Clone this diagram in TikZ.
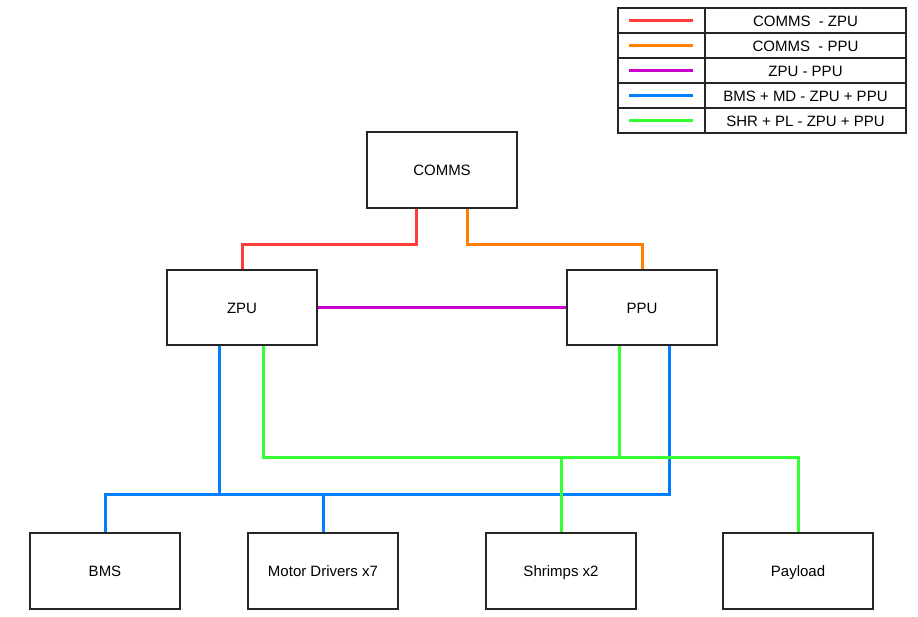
\documentclass[tikz,border=0pt]{standalone}
\usepackage{fontspec}
\setmainfont{Liberation Sans}
\usetikzlibrary{backgrounds}
\definecolor{cred}{RGB}{255,59,59}
\definecolor{corange}{RGB}{255,128,0}
\definecolor{cpurple}{RGB}{204,0,204}
\definecolor{cblue}{RGB}{0,128,255}
\definecolor{cgreen}{RGB}{51,255,51}
\tikzset{
  box/.style={draw=black!85, fill=white, line width=1.2pt, minimum width=150pt, minimum height=76pt, inner sep=0pt, text height=11pt, text depth=0pt, font=\fontsize{15}{18}\selectfont},
  legcell/.style={draw=black!85, line width=1.1pt, minimum height=25pt, inner sep=0pt, text height=11pt, text depth=0pt, font=\fontsize{15}{18}\selectfont},
  wire/.style={line width=3pt},
  legwire/.style={line width=3.6pt},
}
\begin{document}
\begin{tikzpicture}[x=1pt,y=-1pt]
\useasboundingbox (0,0) rectangle (918,616);
% boxes
\node[box] (comms) at (442,170) {COMMS};
\node[box, minimum height=75pt] (zpu) at (242,307.5) {ZPU};
\node[box, minimum height=75pt] (ppu) at (642,307.5) {PPU};
\node[box] (bms) at (105,571) {BMS};
\node[box] (md) at (323,571) {Motor Drivers x7};
\node[box] (shr) at (561,571) {Shrimps x2};
\node[box] (pay) at (798,571) {Payload};
% legend
\foreach \i/\lab in {1/{COMMS\ \ - ZPU},2/{COMMS\ \ - PPU},3/{ZPU - PPU},4/{BMS + MD - ZPU + PPU},5/{SHR + PL - ZPU + PPU}}{
  \node[legcell, minimum width=87pt] (l\i) at (661.5,{8+25*\i-12.5}) {};
  \node[legcell, minimum width=201pt] (t\i) at (805.5,{8+25*\i-12.5}) {\lab};
}
\draw[legwire,cred] ([xshift=12pt]l1.center -| l1.west) -- ([xshift=-13pt]l1.center -| l1.east);
\draw[legwire,corange] ([xshift=12pt]l2.center -| l2.west) -- ([xshift=-13pt]l2.center -| l2.east);
\draw[legwire,cpurple] ([xshift=12pt]l3.center -| l3.west) -- ([xshift=-13pt]l3.center -| l3.east);
\draw[legwire,cblue] ([xshift=12pt]l4.center -| l4.west) -- ([xshift=-13pt]l4.center -| l4.east);
\draw[legwire,cgreen] ([xshift=12pt]l5.center -| l5.west) -- ([xshift=-13pt]l5.center -| l5.east);
\begin{pgfonlayer}{background}
% connectors top
\coordinate (cr) at ([xshift=50pt]comms.south west);
\coordinate (co) at ([xshift=101pt]comms.south west);
\draw[wire,cred] (cr) -- (cr |- 0,244) -| (zpu.north);
\draw[wire,corange] (co) -- (co |- 0,244) -| (ppu.north);
\draw[wire,cpurple] (zpu.east) -- (ppu.west);
% blue bus
\coordinate (zb) at ([xshift=53pt]zpu.south west);
\coordinate (pb) at ([xshift=103pt]ppu.south west);
\draw[wire,cblue] (bms.north) |- (pb |- 0,494) -- (pb);
\draw[wire,cblue] (zb) -- (zb |- 0,494);
\draw[wire,cblue] (md.north) -- (md.north |- 0,494);
% green bus
\coordinate (zg) at ([xshift=97pt]zpu.south west);
\coordinate (pg) at ([xshift=53pt]ppu.south west);
\draw[wire,cgreen] (zg) |- (pay.north |- 0,457) -- (pay.north);
\draw[wire,cgreen] (pg) -- (pg |- 0,457);
\draw[wire,cgreen] (shr.north) -- (shr.north |- 0,457);
\end{pgfonlayer}
\end{tikzpicture}
\end{document}
